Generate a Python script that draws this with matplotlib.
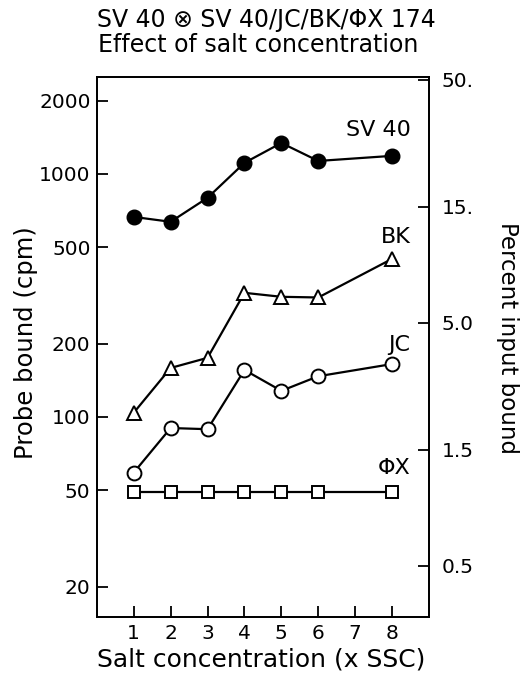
import matplotlib
matplotlib.use("Agg")
import matplotlib.pyplot as plt
from matplotlib.ticker import FixedLocator, FixedFormatter, NullLocator

plt.rcParams['font.family'] = ['DejaVu Sans']

# salt concentration (x SSC)
salt = [1, 2, 3, 4, 5, 6, 8]

# probe bound (cpm)
sv40 = [665, 635, 797, 1110, 1340, 1130, 1186]
bk = [104, 159, 175, 324, 312, 310, 447]
jc = [59, 90, 89, 156, 128, 147, 165]
phix = [49, 49, 49, 49, 49, 49, 49]

left_ticks = [20, 50, 100, 200, 500, 1000, 2000]
right_ticks = [0.5, 1.5, 5.0, 15.0, 50.0]
right_labels = ["0.5", "1.5", "5.0", "15.", "50."]
pct_per_cpm = 0.0205  # percent input per cpm

fig = plt.figure(figsize=(5.29, 6.73), dpi=100)
ax = fig.add_axes([0.183, 0.083, 0.628, 0.803])
ax2 = ax.twinx()

lw = 1.6
ax.plot(salt, sv40, color='black', lw=lw, marker='o', ms=10.5, mfc='black', mec='black')
ax.plot(salt, bk, color='black', lw=lw, marker='^', ms=10, mfc='white', mec='black', mew=1.4)
ax.plot(salt, jc, color='black', lw=lw, marker='o', ms=10, mfc='white', mec='black', mew=1.4)
ax.plot(salt, phix, color='black', lw=lw, marker='s', ms=9, mfc='white', mec='black', mew=1.4)

ax.set_yscale('log')
ax.set_xlim(0, 9)
ylo, yhi = 15, 2510
ax.set_ylim(ylo, yhi)
ax.yaxis.set_major_locator(FixedLocator(left_ticks))
ax.yaxis.set_major_formatter(FixedFormatter([str(t) for t in left_ticks]))
ax.yaxis.set_minor_locator(NullLocator())
ax.set_xticks([1, 2, 3, 4, 5, 6, 7, 8])

ax2.set_yscale('log')
ax2.set_ylim(ylo * pct_per_cpm, yhi * pct_per_cpm)
ax2.yaxis.set_major_locator(FixedLocator(right_ticks))
ax2.yaxis.set_major_formatter(FixedFormatter(right_labels))
ax2.yaxis.set_minor_locator(NullLocator())

ax.tick_params(axis='both', which='both', direction='in', length=8, width=1.3, labelsize=14.5, pad=4.5)
ax.tick_params(axis='x', pad=5)
ax2.tick_params(axis='y', which='both', direction='in', length=8, width=1.3, labelsize=14.5, pad=9)
for s in ax.spines.values():
    s.set_linewidth(1.3)
for s in ax2.spines.values():
    s.set_linewidth(1.3)

W, H = 529, 673
fig.text(26 / W, 1 - 343 / H, "Probe bound (cpm)", fontsize=17.5, rotation=90, ha='center', va='center')
fig.text(507 / W, 1 - 338 / H, "Percent input bound", fontsize=16.5, rotation=270, ha='center', va='center')
fig.text(261 / W, 1 - 667 / H, "Salt concentration (x SSC)", fontsize=18, ha='center', va='baseline')

# curve labels
ax.text(8.5, 1518, "SV 40", fontsize=16, ha='right', va='center')
ax.text(8.5, 551, "BK", fontsize=16, ha='right', va='center')
ax.text(8.5, 198, "JC", fontsize=16, ha='right', va='center')
ax.text(8.5, 61.7, "\u03a6X", fontsize=16, ha='right', va='center')

fig.text(266 / W, 1 - 27.5 / H, "SV 40 \u2297 SV 40/JC/BK/\u03a6X 174", fontsize=17, ha='center', va='baseline')
fig.text(258 / W, 1 - 51.5 / H, "Effect of salt concentration", fontsize=17, ha='center', va='baseline')

fig.savefig("out.png", dpi=100)
